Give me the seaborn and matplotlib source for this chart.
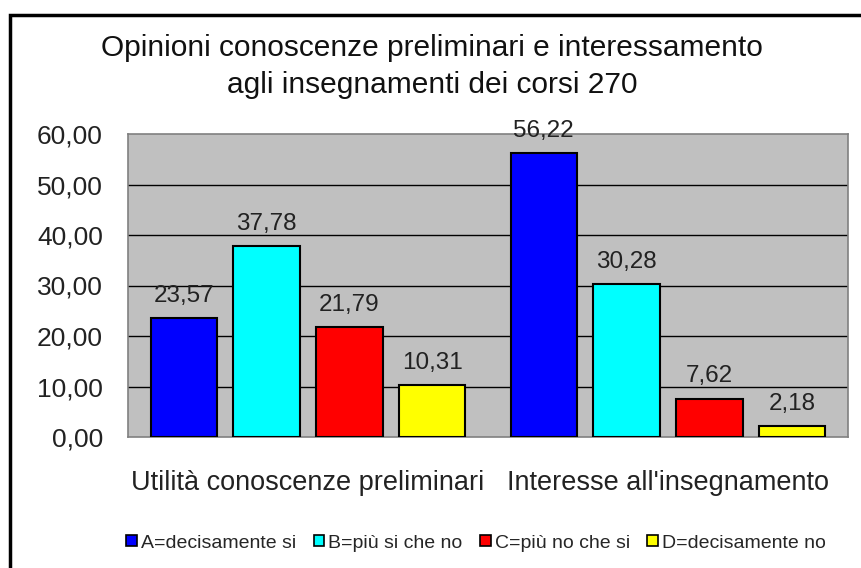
import numpy as np
import pandas as pd
import matplotlib
matplotlib.use("Agg")
import matplotlib.pyplot as plt
import matplotlib.patches as mpatches
from matplotlib.ticker import FuncFormatter, MultipleLocator
import seaborn as sns

# dati
categorie = ["Utilità conoscenze preliminari", "Interesse all'insegnamento"]
risposte = ["A=decisamente si", "B=più si che no", "C=più no che si", "D=decisamente no"]
valori_utilita = [23.57, 37.78, 21.79, 10.31]
valori_interesse = [56.22, 30.28, 7.62, 2.18]
colori = ["#0000FF", "#00FFFF", "#FF0000", "#FFFF00"]

righe = []
for r, v in zip(risposte, valori_utilita):
    righe.append({"categoria": categorie[0], "risposta": r, "valore": v})
for r, v in zip(risposte, valori_interesse):
    righe.append({"categoria": categorie[1], "risposta": r, "valore": v})
df = pd.DataFrame(righe)

sns.set_style("white")
plt.rcParams["font.family"] = ["Liberation Sans", "DejaVu Sans"]

fig = plt.figure(figsize=(8.61, 5.68), dpi=100)
ax = fig.add_axes([128 / 861, 131 / 568, 720 / 861, 303 / 568])
ax.set_facecolor("#C0C0C0")

sns.barplot(data=df, x="categoria", y="valore", hue="risposta",
            order=categorie, hue_order=risposte, palette=colori,
            width=0.92, gap=0.2, edgecolor="black", linewidth=1.5,
            saturation=1, ax=ax, zorder=3)

ax.set_ylim(0, 60)
ax.set_xlim(-0.5, 1.5)
ax.yaxis.set_major_locator(MultipleLocator(10))
ax.yaxis.set_major_formatter(FuncFormatter(lambda v, p: f"{v:.2f}".replace(".", ",")))
for y in range(10, 60, 10):
    ax.axhline(y, color="black", linewidth=1, zorder=1)

for cont in ax.containers:
    etichette = [f"{b.get_height():.2f}".replace(".", ",") for b in cont]
    ax.bar_label(cont, labels=etichette, padding=8, fontsize=17.5, color="#222222")

ax.set_xlabel("")
ax.set_ylabel("")
ax.tick_params(axis="y", length=0, pad=18, labelsize=19, labelcolor="#222222")
ax.tick_params(axis="x", length=0, pad=24, labelsize=19.5, labelcolor="#222222")
for s in ax.spines.values():
    s.set_color("#808080")
    s.set_linewidth(1.2)

ax.legend_.remove()
handles = [mpatches.Patch(facecolor=c, edgecolor="black", linewidth=1.2) for c in colori]
fig.legend(handles, risposte, loc="center", bbox_to_anchor=(0.553, 0.044),
           ncol=4, frameon=False, fontsize=14, handlelength=0.55, handleheight=0.55,
           handletextpad=0.2, columnspacing=0.9)

fig.suptitle("Opinioni conoscenze preliminari e interessamento\nagli insegnamenti dei corsi 270",
             x=0.502, y=0.94, fontsize=21.5, color="#111111", linespacing=1.4)

bordo = mpatches.Rectangle((10 / 861, -0.2), 1.2, 0.2 + (568 - 15) / 568,
                           transform=fig.transFigure, fill=False, edgecolor="black",
                           linewidth=2.5, clip_on=False)
fig.patches.append(bordo)

fig.savefig("out.png", dpi=100, facecolor="white")
